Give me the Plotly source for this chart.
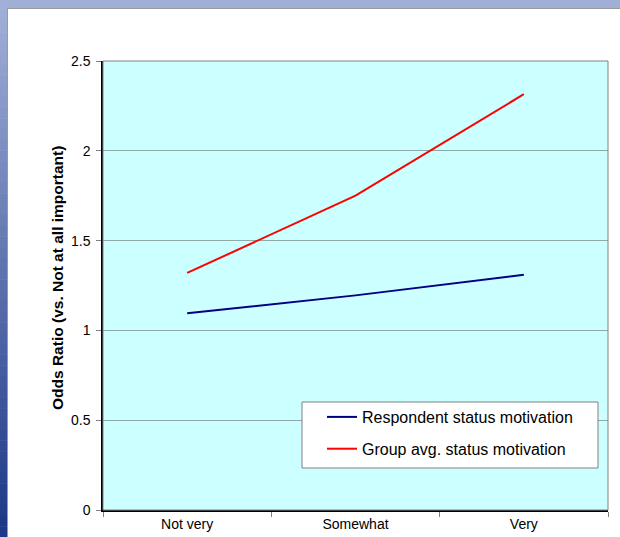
import plotly.graph_objects as go

categories = ["Not very", "Somewhat", "Very"]
respondent = [1.095, 1.195, 1.31]
group_avg = [1.32, 1.75, 2.315]
y_ticks = [0, 0.5, 1, 1.5, 2, 2.5]
y_tick_labels = ["0", "0.5", "1", "1.5", "2", "2.5"]
y_title = "Odds Ratio (vs. Not at all important)"

W, H = 620, 537
L, R, T, B = 103, 608, 61, 510

def px(x):
    return (x - L) / (R - L)

def py(y):
    return (B - y) / (B - T)

fig = go.Figure()
fig.add_trace(go.Scatter(x=categories, y=respondent, mode="lines",
                         name="Respondent status motivation", legendgroup="a",
                         line=dict(color="#000080", width=2)))
fig.add_trace(go.Scatter(x=categories, y=group_avg, mode="lines",
                         name="Group avg. status motivation", legendgroup="b",
                         line=dict(color="#FF0000", width=2)))

shapes = []
# top band
shapes.append(dict(type="rect", xref="paper", yref="paper", x0=px(0), x1=px(W), y0=py(8), y1=py(0),
                   fillcolor="#A0AFD6", line=dict(width=0), layer="below"))
shapes.append(dict(type="line", xref="paper", yref="paper", x0=px(7), x1=px(W), y0=py(8.5), y1=py(8.5),
                   line=dict(color="#9A9A9A", width=1), layer="below"))
# left band gradient
n = 50
c0 = (0xA2, 0xB0, 0xD8)
c1 = (0x1C, 0x38, 0x86)
for i in range(n):
    t = i / (n - 1)
    c = tuple(int(c0[k] + (c1[k] - c0[k]) * t) for k in range(3))
    y0 = H * i / n
    y1 = H * (i + 1) / n + 0.5
    shapes.append(dict(type="rect", xref="paper", yref="paper", x0=px(0), x1=px(7),
                       y0=py(y1), y1=py(y0), fillcolor="rgb(%d,%d,%d)" % c,
                       line=dict(width=0), layer="below"))
shapes.append(dict(type="line", xref="paper", yref="paper", x0=px(7.5), x1=px(7.5), y0=py(H), y1=py(8),
                   line=dict(color="#9A9A9A", width=1), layer="below"))
# plot border (grey)
shapes.append(dict(type="rect", xref="paper", yref="paper", x0=0, x1=1, y0=0, y1=1,
                   line=dict(color="#808080", width=1), fillcolor="rgba(0,0,0,0)", layer="above"))
# legend box
shapes.append(dict(type="rect", xref="paper", yref="paper", x0=px(302), x1=px(598), y0=py(468), y1=py(402),
                   line=dict(color="#808080", width=1), fillcolor="white", layer="above"))

fig.add_annotation(text="<b>%s</b>" % y_title, xref="paper", yref="paper",
                   x=px(57), y=py(278), xanchor="center", yanchor="middle",
                   textangle=-90, showarrow=False, font=dict(size=15.5, color="black"))

fig.update_layout(
    width=W, height=H,
    margin=dict(l=L, r=W - R, t=T, b=H - B, pad=0, autoexpand=False),
    paper_bgcolor="white",
    plot_bgcolor="#CCFFFF",
    font=dict(family="Liberation Sans, Arial, sans-serif", size=14, color="black"),
    shapes=shapes,
    showlegend=True,
    legend=dict(x=px(302), y=py(400), xanchor="left", yanchor="top",
                bgcolor="rgba(0,0,0,0)", borderwidth=0,
                font=dict(size=16, family="Liberation Sans, Arial, sans-serif"),
                tracegroupgap=8, itemwidth=30, indentation=20),
    xaxis=dict(type="category", showgrid=False, showline=True, linecolor="black", linewidth=1.5,
               ticks="outside", ticklen=5, tickcolor="#808080", tickson="boundaries",
               tickfont=dict(size=14), mirror=False, range=[-0.5, 2.5], automargin=False),
    yaxis=dict(range=[0, 2.5], tickvals=y_ticks, ticktext=y_tick_labels,
               showgrid=True, gridcolor="#8FA8A8", gridwidth=1,
               showline=True, linecolor="black", linewidth=1.5,
               ticks="outside", ticklen=5, tickcolor="#808080", ticklabelstandoff=3,
               tickfont=dict(size=14), zeroline=False, automargin=False),
)

fig.write_html("out.html")
